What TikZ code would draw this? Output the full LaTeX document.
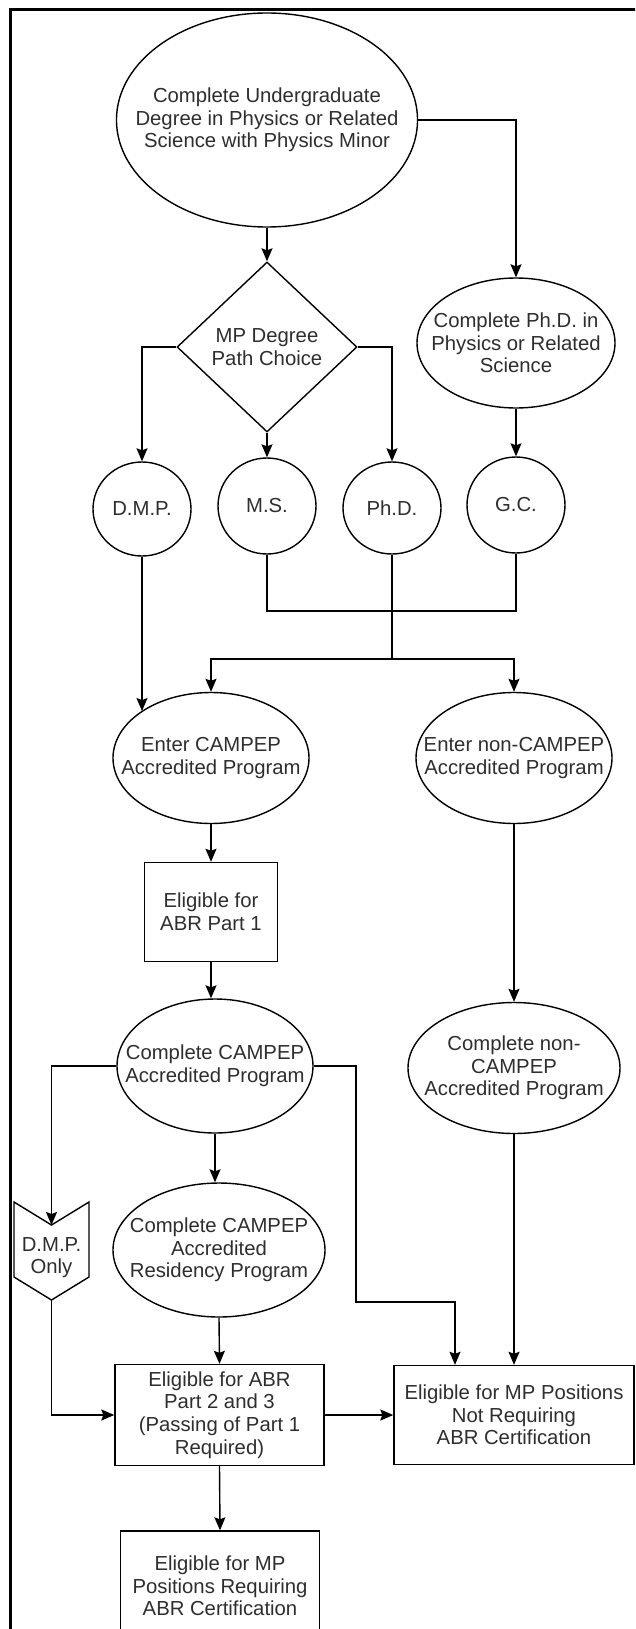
\documentclass[tikz,border=0pt]{standalone}
\usepackage{fontspec}
\setmainfont{Liberation Sans}
\usetikzlibrary{shapes.geometric,arrows.meta}
\begin{document}
\begin{tikzpicture}[x=1pt,y=-1pt,
  every node/.style={font=\fontsize{20.3}{22.7}\selectfont, text=black!82, align=center},
  ell/.style={draw, shape=ellipse, line width=1.4pt, inner sep=-25pt},
  dia/.style={draw, shape=diamond, line width=1.4pt, inner sep=-30pt},
  box/.style={draw, rectangle, line width=1.4pt, inner sep=0pt},
  conn/.style={line width=1.4pt},
  arr/.style={conn, -{Stealth[length=13pt,width=11pt,inset=2pt]}},
]
\useasboundingbox (0,0) rectangle (635,1629);
\clip (0,0) rectangle (635,1629);
\fill[white] (0,0) rectangle (635,1629);
\draw[line width=3pt] (10,1700) -- (10,10) -- (700,10);

% nodes
\node[ell, minimum width=278pt, minimum height=214pt] (top) at (267,120) {Complete Undergraduate\\Degree in Physics or Related\\Science with Physics Minor};
\node[dia, minimum width=180pt, minimum height=170pt] (dia) at (267,347) {MP Degree\\Path Choice};
\node[ell, minimum width=198pt, minimum height=130pt] (phdsci) at (516,343) {Complete Ph.D. in\\Physics or Related\\Science};

\node[ell, minimum width=98pt, minimum height=94pt] (dmp) at (142,509) {D.M.P.};
\node[ell, minimum width=98pt, minimum height=96pt] (ms) at (267,506) {M.S.};
\node[ell, minimum width=98pt, minimum height=92pt] (phd) at (392,508) {Ph.D.};
\node[ell, minimum width=98pt, minimum height=96pt] (gc) at (516,505) {G.C.};

\node[ell, minimum width=196pt, minimum height=131pt] (ecamp) at (211,758) {Enter CAMPEP\\Accredited Program};
\node[ell, minimum width=196pt, minimum height=131pt] (enon) at (514,758) {Enter non-CAMPEP\\Accredited Program};

\node[box, minimum width=133pt, minimum height=99pt] (b1) at (211,912) {Eligible for\\ABR Part 1};

\node[ell, minimum width=196pt, minimum height=134pt] (ccamp) at (215,1066) {Complete CAMPEP\\Accredited Program};
\node[ell, minimum width=212pt, minimum height=131pt] (cnon) at (514,1068) {Complete non-\\CAMPEP\\Accredited Program};

\node[ell, minimum width=212pt, minimum height=134pt] (resid) at (219,1250) {Complete CAMPEP\\Accredited\\Residency Program};

\node[box, minimum width=209pt, minimum height=101pt] (b2) at (219.5,1415) {Eligible for ABR\\Part 2 and 3\\(Passing of Part 1\\Required)};
\node[box, minimum width=240pt, minimum height=99pt] (b3) at (514,1415) {Eligible for MP Positions\\Not Requiring\\ABR Certification};
\node[box, minimum width=199pt, minimum height=110pt] (b4) at (220,1586) {Eligible for MP\\Positions Requiring\\ABR Certification};

% D.M.P. Only chevron
\coordinate (notch) at (51.5,1225);
\coordinate (tip) at (51.5,1300);
\draw[line width=1.4pt] (14,1202) -- (notch) -- (89,1202) -- (89,1277) -- (tip) -- (14,1277) -- cycle;
\node (only) at (51.5,1257.5) {D.M.P.\\Only};

% junctions
\coordinate (j1) at (0,611);
\coordinate (j2) at (392,659);
\coordinate (j3) at (356,1302);
\coordinate (j4) at (455,0);

% connectors
\draw[arr] (top.south) -- (dia.north);
\draw[arr] (top.east) -| (phdsci.north);
\draw[arr] (dia.west) -| (dmp.north);
\draw[arr] (dia.south) -- (ms.north);
\draw[arr] (dia.east) -| (phd.north);
\draw[arr] (phdsci.south) -- (gc.north);
\draw[conn] (ms.south) |- (j1 -| gc.south) -- (gc.south);
\draw[conn] (phd.south) -- (j2);
\draw[arr] (j2) -| (ecamp.north);
\draw[arr] (j2) -| (enon.north);
\draw[arr] (dmp.south) -- (dmp.south |- ecamp.146);
\draw[arr] (ecamp.south) -- (b1.north);
\draw[arr] (b1.south) -- (b1.south |- ccamp.north);
\draw[arr] (enon.south) -- (cnon.north);
\draw[arr] (ccamp.west) -| (notch);
\draw[arr] (ccamp.east) -| (j3) -| (b3.north -| j4);
\draw[arr] (ccamp.south) -- (ccamp.south |- resid.north);
\draw[arr] (tip) |- (b2.west);
\draw[arr] (resid.south) -- (b2.north);
\draw[arr] (b2.east) -- (b3.west);
\draw[arr] (cnon.south) -- (b3.north);
\draw[arr] (b2.south) -- (b4.north);
\end{tikzpicture}
\end{document}
